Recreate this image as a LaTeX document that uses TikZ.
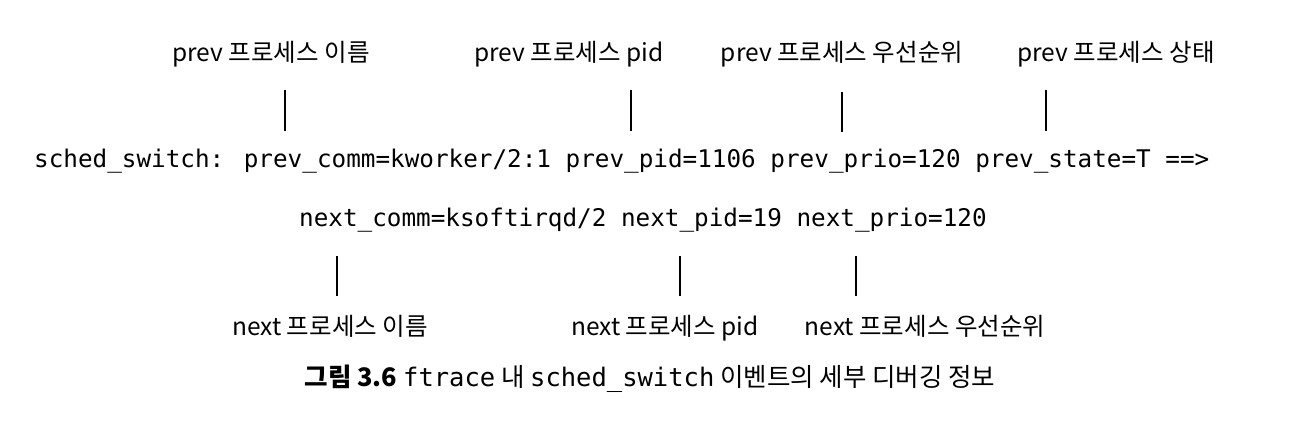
\documentclass[tikz,border=0pt]{standalone}
\usepackage{fontspec}
\setmainfont{Noto Sans CJK KR}
\newfontfamily\kr{Noto Sans CJK KR}
\newfontfamily\mono{DejaVu Sans Mono}
\begin{document}
\begin{tikzpicture}[x=1pt,y=-1pt,
  lbl/.style={inner sep=0pt,anchor=base,font=\kr\fontsize{24.5}{28}\selectfont},
  code/.style={inner sep=0pt,anchor=base west,font=\mono\fontsize{24.3}{28}\selectfont},
  tick/.style={line width=1.6pt,black}]
\useasboundingbox (0,0) rectangle (1296,437);
% top labels
\node[lbl] (p1) at (271,61) {prev 프로세스 이름};
\node[lbl] (p2) at (569,61) {prev 프로세스 pid};
\node[lbl] (p3) at (842,61) {prev 프로세스 우선순위};
\node[lbl] (p4) at (1116,61) {prev 프로세스 상태};
% code lines
\node[code] (l1) at (34,167) {sched\_switch: prev\_comm=kworker/2:1 prev\_pid=1106 prev\_prio=120 prev\_state=T ==>};
\node[code] (l2) at (299,226) {next\_comm=ksoftirqd/2 next\_pid=19 next\_prio=120};
% bottom labels
\node[lbl] (n1) at (330,335) {next 프로세스 이름};
\node[lbl] (n2) at (665,335) {next 프로세스 pid};
\node[lbl] (n3) at (925,335) {next 프로세스 우선순위};
% caption
\node[inner sep=0pt,anchor=base,font=\kr\fontsize{25.5}{30}\selectfont] (cap) at (650,386) {{\bfseries 그림 3.6} {\mono ftrace} 내 {\mono sched\_switch} 이벤트의 세부 디버깅 정보};
% tick coordinates
\coordinate (a1) at (285,90);  \coordinate (b1) at (285,131);
\coordinate (a2) at (631,90);  \coordinate (b2) at (631,131);
\coordinate (a3) at (842,92);  \coordinate (b3) at (842,132);
\coordinate (a4) at (1046,90); \coordinate (b4) at (1046,131);
\coordinate (c1) at (337,256); \coordinate (d1) at (337,296);
\coordinate (c2) at (680,256); \coordinate (d2) at (680,296);
\coordinate (c3) at (856,256); \coordinate (d3) at (856,296);
\draw[tick] (a1) -- (b1);
\draw[tick] (a2) -- (b2);
\draw[tick] (a3) -- (b3);
\draw[tick] (a4) -- (b4);
\draw[tick] (c1) -- (d1);
\draw[tick] (c2) -- (d2);
\draw[tick] (c3) -- (d3);
\end{tikzpicture}
\end{document}
